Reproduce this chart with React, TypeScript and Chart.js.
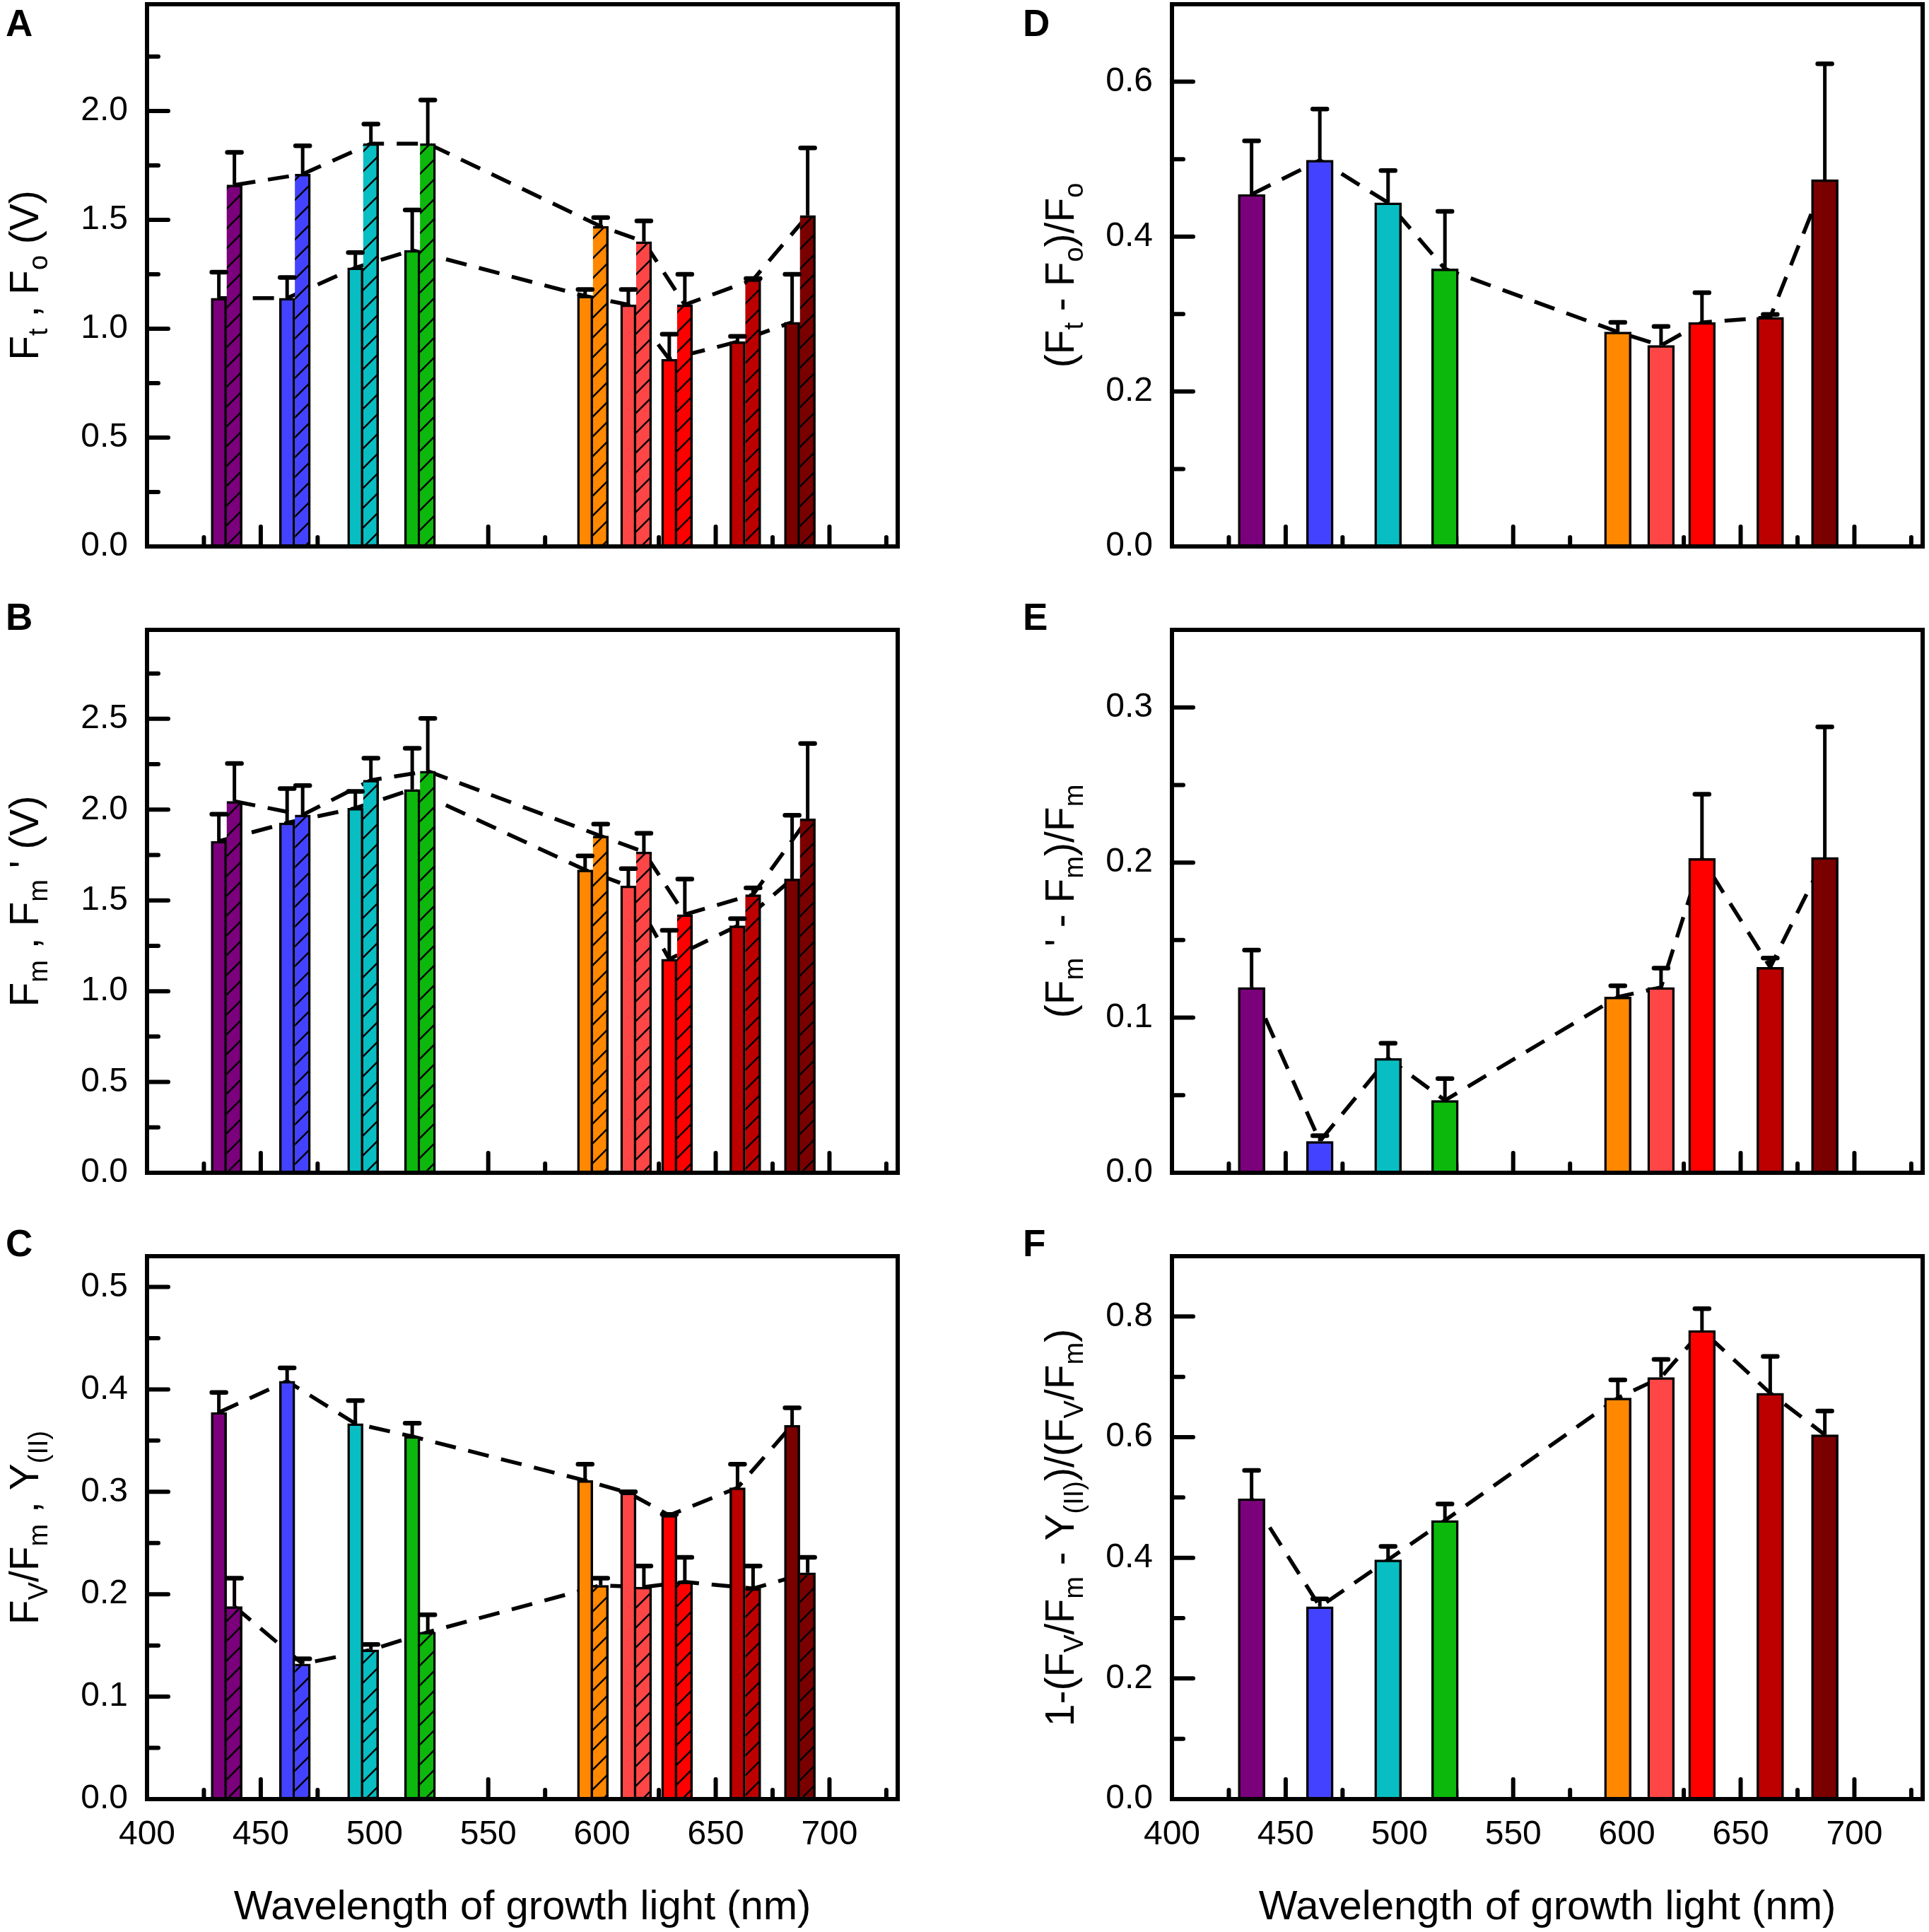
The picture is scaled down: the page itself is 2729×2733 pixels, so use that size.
import React, { useEffect, useRef } from 'react';
import { Chart, registerables } from 'chart.js';

Chart.register(...registerables);

const FONT = "'Liberation Sans', Arial, Helvetica, sans-serif";

// ---------------- data ----------------
const wavelengths = [435, 465, 495, 520, 596, 615, 633, 663, 687];
const barColors = ['#7b007b', '#4343ff', '#09bec2', '#0cb80c', '#ff8800', '#ff4646', '#ff0000', '#bc0000', '#7a0000'];

const xMin = 400;
const xMax = 730;
const xMajorStep = 50;
const xTitle = 'Wavelength of growth light (nm)';

// Panel A: Fo (solid) and Ft (hatched)
const foValues = [1.14, 1.14, 1.28, 1.36, 1.15, 1.11, 0.86, 0.94, 1.03];
const foErrors = [0.12, 0.095, 0.07, 0.185, 0.03, 0.07, 0.115, 0.025, 0.22];
const ftValues = [1.66, 1.71, 1.85, 1.85, 1.47, 1.40, 1.11, 1.225, 1.52];
const ftErrors = [0.15, 0.13, 0.09, 0.20, 0.04, 0.095, 0.14, 0.005, 0.31];

// Panel B: Fm (solid) and Fm' (hatched)
const fmValues = [1.826, 1.927, 2.008, 2.111, 1.668, 1.58, 1.176, 1.36, 1.618];
const fmErrors = [0.149, 0.189, 0.092, 0.227, 0.077, 0.095, 0.159, 0.04, 0.351];
const fmPrimeValues = [2.046, 1.971, 2.162, 2.212, 1.855, 1.767, 1.422, 1.532, 1.949];
const fmPrimeErrors = [0.208, 0.162, 0.121, 0.29, 0.065, 0.103, 0.196, 0.037, 0.415];

// Panel C: Fv/Fm (solid) and Y(II) (hatched)
const fvfmValues = [0.3775, 0.408, 0.3666, 0.354, 0.311, 0.299, 0.277, 0.304, 0.365];
const fvfmErrors = [0.0195, 0.013, 0.0224, 0.013, 0.016, 0.001, 0.001, 0.023, 0.017];
const yIIValues = [0.188, 0.132, 0.1457, 0.163, 0.2087, 0.207, 0.212, 0.2056, 0.221];
const yIIErrors = [0.0277, 0.005, 0.0053, 0.017, 0.007, 0.0205, 0.024, 0.0219, 0.015];

// Panel D: (Ft - Fo)/Fo
const ftFoValues = [0.4545, 0.4986, 0.4438, 0.3583, 0.277, 0.2595, 0.2892, 0.2959, 0.4735];
const ftFoErrors = [0.0692, 0.066, 0.0415, 0.0742, 0.0122, 0.0246, 0.0384, 0.0036, 0.1495];

// Panel E: (Fm' - Fm)/Fm
const fmRatioValues = [0.1195, 0.0203, 0.0738, 0.0467, 0.1133, 0.1195, 0.2026, 0.1325, 0.2033];
const fmRatioErrors = [0.0241, 0.0036, 0.0097, 0.014, 0.0072, 0.0124, 0.0414, 0.0059, 0.0841];

// Panel F: 1-(Fv/Fm - Y(II))/(Fv/Fm)
const yRatioValues = [0.498, 0.319, 0.3966, 0.462, 0.665, 0.699, 0.777, 0.673, 0.604];
const yRatioErrors = [0.047, 0.013, 0.0224, 0.0273, 0.030, 0.030, 0.036, 0.061, 0.0395];

// y-axis ranges and major tick steps
const yMaxA = 2.49, yStepA = 0.5;
const yMaxB = 2.99, yStepB = 0.5;
const yMaxC = 0.53, yStepC = 0.1;
const yMaxD = 0.7, yStepD = 0.2;
const yMaxE = 0.35, yStepE = 0.1;
const yMaxF = 0.9, yStepF = 0.2;

// ---------------- layout / specs ----------------
type Seg = { t: string; sub?: boolean };
type Series = { values: number[]; errors: number[]; hatched: boolean };
interface Spec {
  letter: string;
  col: number;
  row: number;
  yMax: number;
  yStep: number;
  series: Series[];
  title: Seg[];
}

const colLayout = [
  { left: 0, width: 1364, plotLeft: 208, plotRight: 1270, titleX: 54, letterX: 8 },
  { left: 1364, width: 1365, plotLeft: 294, plotRight: 1356, titleX: 155, letterX: 83 },
];
const rowLayout = [
  { top: 0, height: 832, plotTop: 6, plotBottom: 773, letterBase: 51 },
  { top: 832, height: 886, plotTop: 59, plotBottom: 827, letterBase: 59 },
  { top: 1718, height: 1015, plotTop: 59, plotBottom: 827, letterBase: 59 },
];

const panels: Spec[] = [
  {
    letter: 'A', col: 0, row: 0, yMax: yMaxA, yStep: yStepA,
    series: [
      { values: foValues, errors: foErrors, hatched: false },
      { values: ftValues, errors: ftErrors, hatched: true },
    ],
    title: [{ t: 'F' }, { t: 't', sub: true }, { t: ' , F' }, { t: 'o', sub: true }, { t: ' (V)' }],
  },
  {
    letter: 'B', col: 0, row: 1, yMax: yMaxB, yStep: yStepB,
    series: [
      { values: fmValues, errors: fmErrors, hatched: false },
      { values: fmPrimeValues, errors: fmPrimeErrors, hatched: true },
    ],
    title: [{ t: 'F' }, { t: 'm', sub: true }, { t: ' , F' }, { t: 'm', sub: true }, { t: " ' (V)" }],
  },
  {
    letter: 'C', col: 0, row: 2, yMax: yMaxC, yStep: yStepC,
    series: [
      { values: fvfmValues, errors: fvfmErrors, hatched: false },
      { values: yIIValues, errors: yIIErrors, hatched: true },
    ],
    title: [{ t: 'F' }, { t: 'V', sub: true }, { t: '/F' }, { t: 'm', sub: true }, { t: ' , Y' }, { t: '(II)', sub: true }],
  },
  {
    letter: 'D', col: 1, row: 0, yMax: yMaxD, yStep: yStepD,
    series: [{ values: ftFoValues, errors: ftFoErrors, hatched: false }],
    title: [{ t: '(F' }, { t: 't', sub: true }, { t: ' - F' }, { t: 'o', sub: true }, { t: ')/F' }, { t: 'o', sub: true }],
  },
  {
    letter: 'E', col: 1, row: 1, yMax: yMaxE, yStep: yStepE,
    series: [{ values: fmRatioValues, errors: fmRatioErrors, hatched: false }],
    title: [{ t: '(F' }, { t: 'm', sub: true }, { t: " ' - F" }, { t: 'm', sub: true }, { t: ')/F' }, { t: 'm', sub: true }],
  },
  {
    letter: 'F', col: 1, row: 2, yMax: yMaxF, yStep: yStepF,
    series: [{ values: yRatioValues, errors: yRatioErrors, hatched: false }],
    title: [
      { t: '1-(F' }, { t: 'V', sub: true }, { t: '/F' }, { t: 'm', sub: true }, { t: ' - Y' }, { t: '(II)', sub: true },
      { t: ')/(F' }, { t: 'V', sub: true }, { t: '/F' }, { t: 'm', sub: true }, { t: ')' },
    ],
  },
];

// ---------------- helpers ----------------
function makeHatch(color: string): CanvasPattern | string {
  const s = 28;
  const c = document.createElement('canvas');
  c.width = s;
  c.height = s;
  const g = c.getContext('2d');
  if (!g) return color;
  g.fillStyle = color;
  g.fillRect(0, 0, s, s);
  g.strokeStyle = '#000';
  g.lineWidth = 2.5;
  g.beginPath();
  g.moveTo(-4, s + 4);
  g.lineTo(s + 4, -4);
  g.moveTo(-4, 4);
  g.lineTo(4, -4);
  g.moveTo(s - 4, s + 4);
  g.lineTo(s + 4, s - 4);
  g.stroke();
  return g.createPattern(c, 'repeat') || color;
}

function drawRich(ctx: CanvasRenderingContext2D, segs: Seg[], cx: number, cy: number, size: number, rotate: boolean) {
  const main = `${size}px ${FONT}`;
  const sub = `${Math.round(size * 0.66)}px ${FONT}`;
  ctx.save();
  ctx.translate(cx, cy);
  if (rotate) ctx.rotate(-Math.PI / 2);
  ctx.textBaseline = 'alphabetic';
  ctx.textAlign = 'left';
  ctx.fillStyle = '#000';
  let total = 0;
  const widths = segs.map((s) => {
    ctx.font = s.sub ? sub : main;
    const w = ctx.measureText(s.t).width;
    total += w;
    return w;
  });
  let x = -total / 2;
  segs.forEach((s, i) => {
    ctx.font = s.sub ? sub : main;
    ctx.fillText(s.t, x, s.sub ? size * 0.22 : 0);
    x += widths[i];
  });
  ctx.restore();
}

function Panel({ spec }: { spec: Spec }) {
  const ref = useRef<HTMLCanvasElement>(null);
  const col = colLayout[spec.col];
  const row = rowLayout[spec.row];
  const paired = spec.series.length > 1;
  const showX = spec.row === 2;

  useEffect(() => {
    const canvas = ref.current;
    if (!canvas) return;

    const datasets = spec.series.map((s) => ({
      type: 'bar' as const,
      data: wavelengths.map((w, i) => ({ x: w, y: s.values[i] })),
      backgroundColor: barColors.map((c) => (s.hatched ? makeHatch(c) : c)),
      borderColor: '#000',
      borderWidth: 3.5,
      borderSkipped: s.hatched ? 'left' : 'start',
      barThickness: paired ? 22 : 38,
      errorBars: s.errors,
    }));

    const decor = {
      id: 'decor' + spec.letter,
      beforeDatasetsDraw(chart: any) {
        const { ctx, chartArea: a, scales } = chart;
        const xs = scales.x;
        const ys = scales.y;
        ctx.save();
        ctx.strokeStyle = '#000';
        ctx.lineCap = 'round';
        ctx.lineWidth = 6;
        // inward x ticks
        for (let v = xMin + xMajorStep / 2; v < xMax; v += xMajorStep / 2) {
          const px = xs.getPixelForValue(v);
          const len = Math.abs(v % xMajorStep) < 1e-6 ? 28 : 13;
          ctx.beginPath();
          ctx.moveTo(px, a.bottom);
          ctx.lineTo(px, a.bottom - len);
          ctx.stroke();
        }
        // inward y ticks
        const half = spec.yStep / 2;
        for (let k = 1; k * half < spec.yMax - 1e-6; k++) {
          const py = ys.getPixelForValue(k * half);
          const len = k % 2 === 0 ? 30 : 16;
          ctx.beginPath();
          ctx.moveTo(a.left, py);
          ctx.lineTo(a.left + len, py);
          ctx.stroke();
        }
        // dashed connecting lines (behind bars)
        ctx.lineCap = 'butt';
        ctx.lineWidth = 5.5;
        ctx.setLineDash([30, 18]);
        chart.data.datasets.forEach((_ds: any, di: number) => {
          const meta = chart.getDatasetMeta(di);
          ctx.beginPath();
          meta.data.forEach((el: any, i: number) => {
            if (i === 0) ctx.moveTo(el.x, el.y);
            else ctx.lineTo(el.x, el.y);
          });
          ctx.stroke();
        });
        ctx.restore();
      },
      afterDatasetsDraw(chart: any) {
        const { ctx, chartArea: a, scales } = chart;
        const ys = scales.y;
        ctx.save();
        ctx.strokeStyle = '#000';
        // error bars
        chart.data.datasets.forEach((ds: any, di: number) => {
          const meta = chart.getDatasetMeta(di);
          meta.data.forEach((el: any, i: number) => {
            const v = ds.data[i].y;
            const top = ys.getPixelForValue(v + ds.errorBars[i]);
            ctx.lineCap = 'butt';
            ctx.lineWidth = 5;
            ctx.beginPath();
            ctx.moveTo(el.x, el.y);
            ctx.lineTo(el.x, top);
            ctx.stroke();
            ctx.lineCap = 'round';
            ctx.lineWidth = 6.5;
            ctx.beginPath();
            ctx.moveTo(el.x - 10, top);
            ctx.lineTo(el.x + 10, top);
            ctx.stroke();
          });
        });
        // frame
        ctx.lineCap = 'butt';
        ctx.lineJoin = 'miter';
        ctx.lineWidth = 6;
        ctx.strokeRect(a.left, a.top, a.right - a.left, a.bottom - a.top);
        ctx.restore();
      },
      afterDraw(chart: any) {
        const { ctx, chartArea: a } = chart;
        ctx.save();
        // y title
        drawRich(ctx, spec.title, col.titleX, (a.top + a.bottom) / 2, 57, true);
        // x title
        if (showX) {
          ctx.font = `58px ${FONT}`;
          ctx.fillStyle = '#000';
          ctx.textAlign = 'center';
          ctx.textBaseline = 'alphabetic';
          ctx.fillText(xTitle, (a.left + a.right) / 2, a.bottom + 170);
        }
        // panel letter
        ctx.font = `bold 53px ${FONT}`;
        ctx.fillStyle = '#000';
        ctx.textAlign = 'left';
        ctx.textBaseline = 'alphabetic';
        ctx.fillText(spec.letter, col.letterX, row.letterBase);
        ctx.restore();
      },
    };

    const chart = new Chart(canvas, {
      type: 'bar',
      data: { datasets: datasets as any },
      options: {
        responsive: false,
        animation: false,
        devicePixelRatio: 1,
        events: [],
        layout: {
          padding: { left: 0, top: row.plotTop, right: col.width - col.plotRight, bottom: 0 },
        },
        plugins: { legend: { display: false }, tooltip: { enabled: false } },
        scales: {
          x: {
            type: 'linear',
            min: xMin,
            max: xMax,
            offset: false,
            grid: { display: false, drawTicks: false, offset: false },
            border: { display: false },
            ticks: {
              display: showX,
              stepSize: xMajorStep,
              includeBounds: false,
              autoSkip: false,
              maxRotation: 0,
              padding: 22,
              color: '#000',
              font: { family: FONT, size: 48 },
              callback: (v: any) => String(v),
            },
            afterFit: (scale: any) => {
              scale.height = row.height - row.plotBottom;
              scale.paddingLeft = 0;
              scale.paddingRight = 0;
            },
          },
          y: {
            type: 'linear',
            min: 0,
            max: spec.yMax,
            grid: { display: false, drawTicks: false },
            border: { display: false },
            ticks: {
              stepSize: spec.yStep,
              includeBounds: false,
              padding: 27,
              color: '#000',
              font: { family: FONT, size: 48 },
              callback: (v: any) => Number(v).toFixed(1),
            },
            afterFit: (scale: any) => {
              scale.width = col.plotLeft;
              scale.paddingTop = 0;
              scale.paddingBottom = 0;
            },
          },
        },
      } as any,
      plugins: [decor],
    });
    return () => chart.destroy();
  }, [spec]);

  return (
    <canvas
      ref={ref}
      width={col.width}
      height={row.height}
      style={{ position: 'absolute', left: col.left, top: row.top, width: col.width, height: row.height }}
    />
  );
}

export default function App() {
  return (
    <div style={{ position: 'absolute', left: 0, top: 0, width: 2729, height: 2733, background: '#fff', overflow: 'hidden' }}>
      {panels.map((p) => (
        <Panel key={p.letter} spec={p} />
      ))}
    </div>
  );
}
